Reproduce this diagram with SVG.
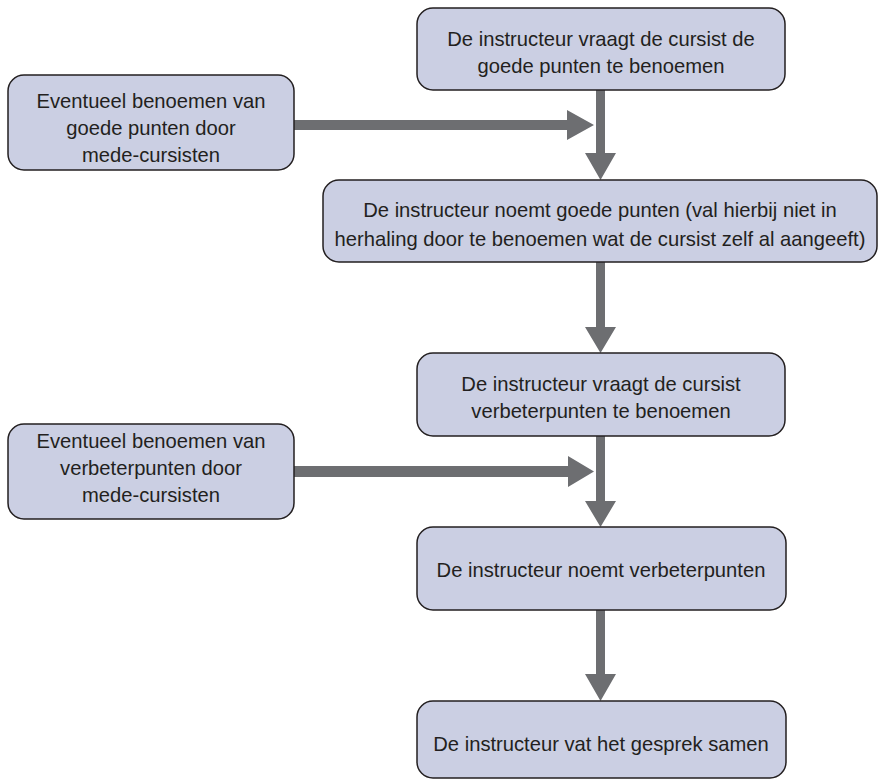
<svg xmlns="http://www.w3.org/2000/svg" width="879" height="780" viewBox="0 0 879 780">
<style>
.box{fill:#CBCFE3;stroke:#231F20;stroke-width:1.5}
.t{font-family:"Liberation Sans",Arial,sans-serif;font-size:20.2px;fill:#231F20;text-anchor:middle}
.arr{fill:#6D6E71}
</style>
<rect width="879" height="780" fill="#FFFFFF"/>
<g id="connectors">
<polygon class="arr" points="596,90 605,90 605,153 616,153 600.5,180 585,153 596,153"/>
<polygon class="arr" points="294,120 567,120 567,110 594,125 567,140 567,130 294,130"/>
<polygon class="arr" points="596,262 605,262 605,327 616,327 600.5,353 585,327 596,327"/>
<polygon class="arr" points="596,436 605,436 605,501 616,501 600.5,527 585,501 596,501"/>
<polygon class="arr" points="294,466 568,466 568,456 594,471.5 568,487 568,477 294,477"/>
<polygon class="arr" points="596,610 605,610 605,674 616,674 600.5,701 585,674 596,674"/>
</g>
<g id="n1">
<rect class="box" x="417" y="8" width="368" height="82" rx="16"/>
<text class="t" x="601" y="46">De instructeur vraagt de cursist de</text>
<text class="t" x="601" y="73">goede punten te benoemen</text>
</g>
<g id="l1">
<rect class="box" x="8" y="75" width="286" height="95" rx="16"/>
<text class="t" x="151" y="108">Eventueel benoemen van</text>
<text class="t" x="151" y="135">goede punten door</text>
<text class="t" x="151" y="162">mede-cursisten</text>
</g>
<g id="n2">
<rect class="box" x="323" y="180" width="554" height="82" rx="16"/>
<text class="t" x="600" y="217">De instructeur noemt goede punten (val hierbij niet in</text>
<text class="t" x="600" y="246">herhaling door te benoemen wat de cursist zelf al aangeeft)</text>
</g>
<g id="n3">
<rect class="box" x="417" y="353" width="368" height="83" rx="16"/>
<text class="t" x="601" y="391">De instructeur vraagt de cursist</text>
<text class="t" x="601" y="418">verbeterpunten te benoemen</text>
</g>
<g id="l2">
<rect class="box" x="8" y="424" width="286" height="95" rx="16"/>
<text class="t" x="151" y="448">Eventueel benoemen van</text>
<text class="t" x="151" y="475">verbeterpunten door</text>
<text class="t" x="151" y="502">mede-cursisten</text>
</g>
<g id="n4">
<rect class="box" x="417" y="527" width="369" height="83" rx="16"/>
<text class="t" x="601" y="577">De instructeur noemt verbeterpunten</text>
</g>
<g id="n5">
<rect class="box" x="417" y="701" width="369" height="77" rx="16"/>
<text class="t" x="601" y="751">De instructeur vat het gesprek samen</text>
</g>
</svg>
